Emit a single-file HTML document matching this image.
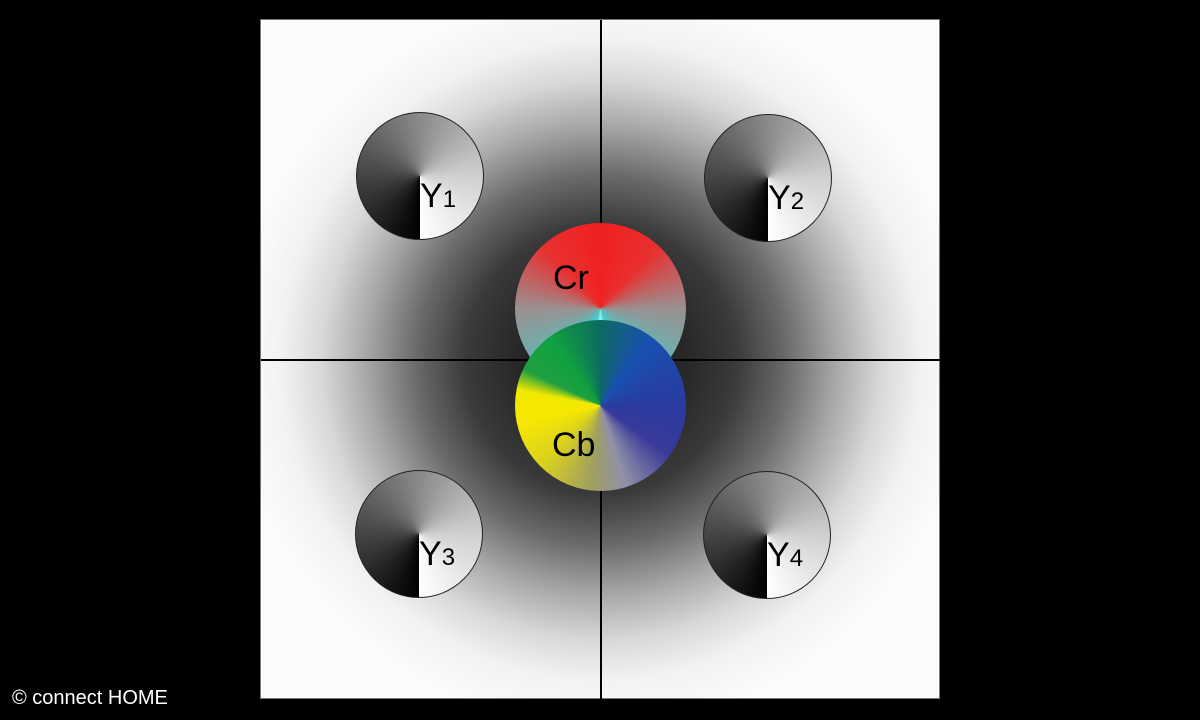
<!DOCTYPE html>
<html><head><style>
html,body{margin:0;padding:0;background:#000;width:1200px;height:720px;overflow:hidden;font-family:"Liberation Sans",sans-serif}
#sq{position:absolute;left:260px;top:19px;width:680px;height:680px;box-sizing:border-box;border:1px solid #777;
background:radial-gradient(circle at 340px 340px,#1c1c1c 0px,#262626 80px,#3a3a3a 135px,#6a6a6a 185px,#a8a8a8 235px,#d8d8d8 280px,#f2f2f2 320px,#fcfcfc 370px)}
.v{position:absolute;left:339px;top:0;width:1.5px;height:680px;background:#000}
.h{position:absolute;top:339px;left:0;height:1.5px;width:680px;background:#000}
.y{position:absolute;width:128px;height:128px;border-radius:50%;box-sizing:border-box;border:1px solid #222;
background:conic-gradient(from 180deg,#000,#444 25%,#8a8a8a 50%,#d0d0d0 75%,#fff)}
.y span{position:absolute;left:63px;top:66px;font-size:34px;color:#000;line-height:34px}
.y small{font-size:24px}
.c{position:absolute;width:171px;height:171px;border-radius:50%}
.c span{position:absolute;font-size:34px;color:#000}
</style></head><body>
<div id="sq">
<div class="v"></div><div class="h"></div>
<div class="y" style="left:95px;top:92px"><span>Y<small>1</small></span></div>
<div class="y" style="left:443px;top:94px"><span>Y<small>2</small></span></div>
<div class="y" style="left:94px;top:450px"><span>Y<small>3</small></span></div>
<div class="y" style="left:442px;top:451px"><span>Y<small>4</small></span></div>
<div class="c" style="left:254px;top:203px;background:conic-gradient(#f02020,#e83030 12%,#9a9090 25%,#40d0d0 45%,#a0f0f0 50%,#40d0d0 55%,#9a9090 75%,#e83030 88%,#f02020)"><span style="left:38px;top:36px">Cr</span></div>
<div class="c" style="left:254px;top:300px;background:conic-gradient(#0e6a60,#1850b0 10%,#2a3aa0 25%,#3a3a9a 35%,#9090a8 45%,#a0a060 52%,#d8d020 62%,#f8e800 72%,#f0e800 78%,#20a040 82%,#10a040 90%,#0e6a60)"><span style="left:37px;top:106px">Cb</span></div>
</div>
<div style="position:absolute;left:12px;top:687px;color:#fff;font-size:20px">© connect HOME</div>
</body></html>
